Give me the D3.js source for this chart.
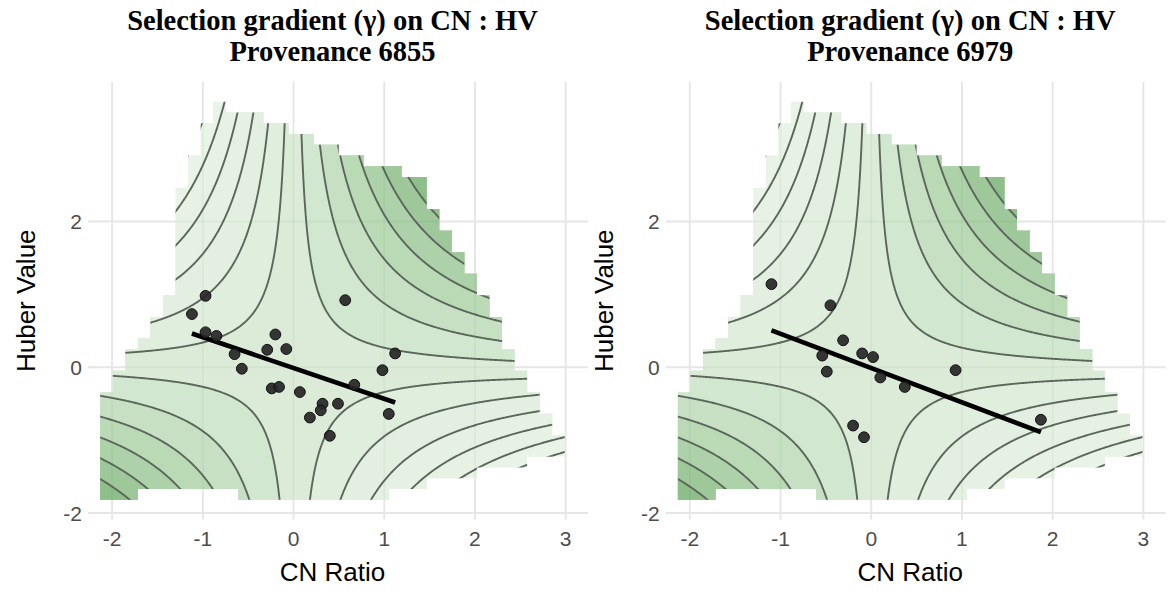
<!DOCTYPE html>
<html><head><meta charset="utf-8">
<script src="https://cdn.jsdelivr.net/npm/d3@7"></script>
<style>body{margin:0;background:#fff} svg{display:block}</style>
</head><body>
<svg id="chart" width="1171" height="596"></svg>
<script>
// ---------------- data ----------------
const provenances = ["6855", "6979"];
const cn6855 = [-1.12,-0.97,-0.97,-0.85,-0.65,-0.57,-0.20,-0.29,-0.08,-0.24,-0.16,0.07,0.32,0.30,0.49,0.18,0.40,0.67,0.98,1.05,0.57,1.12];
const hv6855 = [0.73,0.98,0.48,0.43,0.18,-0.02,0.45,0.24,0.25,-0.29,-0.27,-0.34,-0.50,-0.59,-0.50,-0.69,-0.94,-0.24,-0.04,-0.64,0.92,0.19];
const cn6979 = [-1.10,-0.45,-0.31,-0.54,-0.49,-0.10,0.02,0.10,0.37,-0.20,-0.08,0.93,1.87];
const hv6979 = [1.14,0.85,0.37,0.16,-0.06,0.19,0.14,-0.14,-0.27,-0.80,-0.96,-0.04,-0.72];
const fitIntercept = [-0.01, -0.01];
const fitSlope = [-0.423, -0.47];
const xTicks = [-2, -1, 0, 1, 2, 3];
const yTicks = [-2, 0, 2];
// fitted quadratic surface: z = bX*x + bY*y + gXX*x^2 + gYY*y^2 + gXY*x*y
const surfCoef = [0, 0, 0.0117, 0, 1];
const contourLevels = [-3.368,-2.76,-2.152,-1.544,-0.936,-0.328,0.28,0.888,1.496,2.104,2.712,3.32];
const bandColors = ["#ebf4e9","#e9f3e7","#e7f2e5","#e5f1e3","#e3f0e1","#e0eedd","#dbebd8",
                    "#d2e7cf","#c7e0c4","#badab6","#add1a9","#9ec89a","#8ebe8a"];
// prediction grid extent (data units) and the cells of it that are drawn (row 0 = top)
const gridX = [-2.131, 2.99];
const gridY = [-1.818, 3.643];
const gridCells = 37;
const rowSpans = [
 [[9,10]],[[9,13]],[[8,15]],[[8,17]],[[8,19]],[[7,21]],[[7,24]],[[7,26]],
 [[6,26]],[[6,26]],[[6,27]],[[6,27]],[[6,28]],[[6,28]],[[6,29]],[[6,29]],
 [[6,30]],[[6,30]],[[5,31]],[[5,31]],[[4,32]],[[4,32]],[[3,32]],[[2,33]],
 [[2,33]],[[1,34]],[[1,34]],[[0,35]],[[0,35]],[[0,36]],[[0,36]],[[0,37]],
 [[0,37]],[[0,34]],[[0,30]],[[0,26]],[[0,3],[11,23]]
];
const seriesCN = [cn6855, cn6979];
const seriesHV = [hv6855, hv6979];

// ---------------- layout ----------------
const svg = d3.select("#chart");
const panelTop = 81.8, panelBottom = 519.7;
const panelLefts = [77, 654.7], panelWidth = 511;
const gridStartOffset = 11;   // horizontal grid lines start a little inside the scale range
const expand = 0.05;
const xr = gridX[1]-gridX[0], yr = gridY[1]-gridY[0];
const xDom = [gridX[0]-xr*expand, gridX[1]+xr*expand];
const yDom = [gridY[0]-yr*expand, gridY[1]+yr*expand];
const sans = "'Liberation Sans', Arial, sans-serif";

function surface(x, y){
  const [bx, by, gxx, gyy, gxy] = surfCoef;
  return bx*x + by*y + gxx*x*x + gyy*y*y + gxy*x*y;
}
// fine evaluation grid, larger than the panel so contour borders fall outside the clip
const step = 0.01, ex0 = -2.7, ey0 = -2.5;
const nx = Math.round((3.6-ex0)/step), ny = Math.round((4.4-ey0)/step);
const values = new Float64Array(nx*ny);
for (let j=0;j<ny;j++) for (let i=0;i<nx;i++) values[j*nx+i] = surface(ex0+i*step, ey0+j*step);
const contours = d3.contours().size([nx, ny]).thresholds(contourLevels)(values);

provenances.forEach((prov, p) => {
  const left = panelLefts[p], right = left + panelWidth;
  const xS = d3.scaleLinear().domain(xDom).range([left, right]);
  const yS = d3.scaleLinear().domain(yDom).range([panelBottom, panelTop]);
  const g = svg.append("g");

  // grid lines
  const drawGrid = (sel, color) => {
    const gg = sel.append("g").attr("stroke", color).attr("stroke-width", 1.9);
    gg.selectAll(".vx").data(xTicks).join("line")
      .attr("x1", d=>xS(d)).attr("x2", d=>xS(d)).attr("y1", panelTop).attr("y2", panelBottom);
    gg.selectAll(".hy").data(yTicks).join("line")
      .attr("y1", d=>yS(d)).attr("y2", d=>yS(d)).attr("x1", left+gridStartOffset).attr("x2", right);
  };
  drawGrid(g, "#e6e6e6");

  // clip path from drawn grid cells
  const dx = xr/gridCells, dy = yr/gridCells;
  let clipD = "";
  rowSpans.forEach((spans, r) => {
    const yt = yS(gridY[1]-r*dy), yb = yS(gridY[1]-(r+1)*dy);
    spans.forEach(([a,b]) => {
      const xa = xS(gridX[0]+a*dx), xb = xS(gridX[0]+b*dx);
      clipD += `M${xa},${yt}H${xb}V${yb}H${xa}Z`;
    });
  });
  const clipId = "clip"+prov;
  svg.append("clipPath").attr("id", clipId).attr("clipPathUnits","userSpaceOnUse")
     .append("path").attr("d", clipD);

  const proj = d3.geoTransform({point: function(gx, gy){
    this.stream.point(xS(ex0+(gx-0.5)*step), yS(ey0+(gy-0.5)*step));
  }});
  const path = d3.geoPath(proj);

  const fillG = g.append("g").attr("clip-path", `url(#${clipId})`);
  fillG.append("path").attr("d", clipD).attr("fill", bandColors[0]);
  fillG.selectAll(".band").data(contours).join("path")
    .attr("d", path).attr("fill", (d,i)=>bandColors[i+1]);
  drawGrid(fillG, "rgba(0,40,0,0.04)");
  fillG.selectAll(".iso").data(contours).join("path")
    .attr("d", path).attr("fill", "none").attr("stroke", "#5c675c").attr("stroke-width", 1.9);

  // regression line over observed range
  const cn = seriesCN[p], hv = seriesHV[p];
  const xe = d3.extent(cn);
  g.append("line")
    .attr("x1", xS(xe[0])).attr("y1", yS(fitIntercept[p]+fitSlope[p]*xe[0]))
    .attr("x2", xS(xe[1])).attr("y2", yS(fitIntercept[p]+fitSlope[p]*xe[1]))
    .attr("stroke", "#000").attr("stroke-width", 4.6);

  // points
  g.selectAll(".pt").data(cn.map((c,i)=>[c, hv[i]])).join("circle")
    .attr("cx", d=>xS(d[0])).attr("cy", d=>yS(d[1])).attr("r", 5.4)
    .attr("fill", "#262626").attr("fill-opacity", 0.92)
    .attr("stroke", "#111").attr("stroke-width", 1);

  // tick labels
  g.selectAll(".xt").data(xTicks).join("text")
    .attr("x", d=>xS(d)).attr("y", 546).attr("text-anchor","middle")
    .attr("font-family", sans).attr("font-size", 21).attr("fill","#4d4d4d").text(d=>String(d));
  g.selectAll(".yt").data(yTicks).join("text")
    .attr("x", left+5).attr("y", d=>yS(d)).attr("dy","0.36em").attr("text-anchor","end")
    .attr("font-family", sans).attr("font-size", 21).attr("fill","#4d4d4d").text(d=>String(d));

  // axis titles
  g.append("text").attr("x", (left+right)/2).attr("y", 581).attr("text-anchor","middle")
    .attr("font-family", sans).attr("font-size", 26).attr("fill","#000").text("CN Ratio");
  g.append("text").attr("transform", `translate(${left-42},${(panelTop+panelBottom)/2}) rotate(-90)`)
    .attr("text-anchor","middle")
    .attr("font-family", sans).attr("font-size", 26).attr("fill","#000").text("Huber Value");

  // title
  const t = g.append("text").attr("text-anchor","middle")
    .attr("font-family","'Liberation Serif', 'Times New Roman', serif").attr("font-weight","bold")
    .attr("font-size", 28.5).attr("fill","#000");
  t.append("tspan").attr("x", (left+right)/2).attr("y", 30).text("Selection gradient (γ) on CN : HV");
  t.append("tspan").attr("x", (left+right)/2).attr("y", 61).text("Provenance " + prov);
});
</script>
</body></html>
